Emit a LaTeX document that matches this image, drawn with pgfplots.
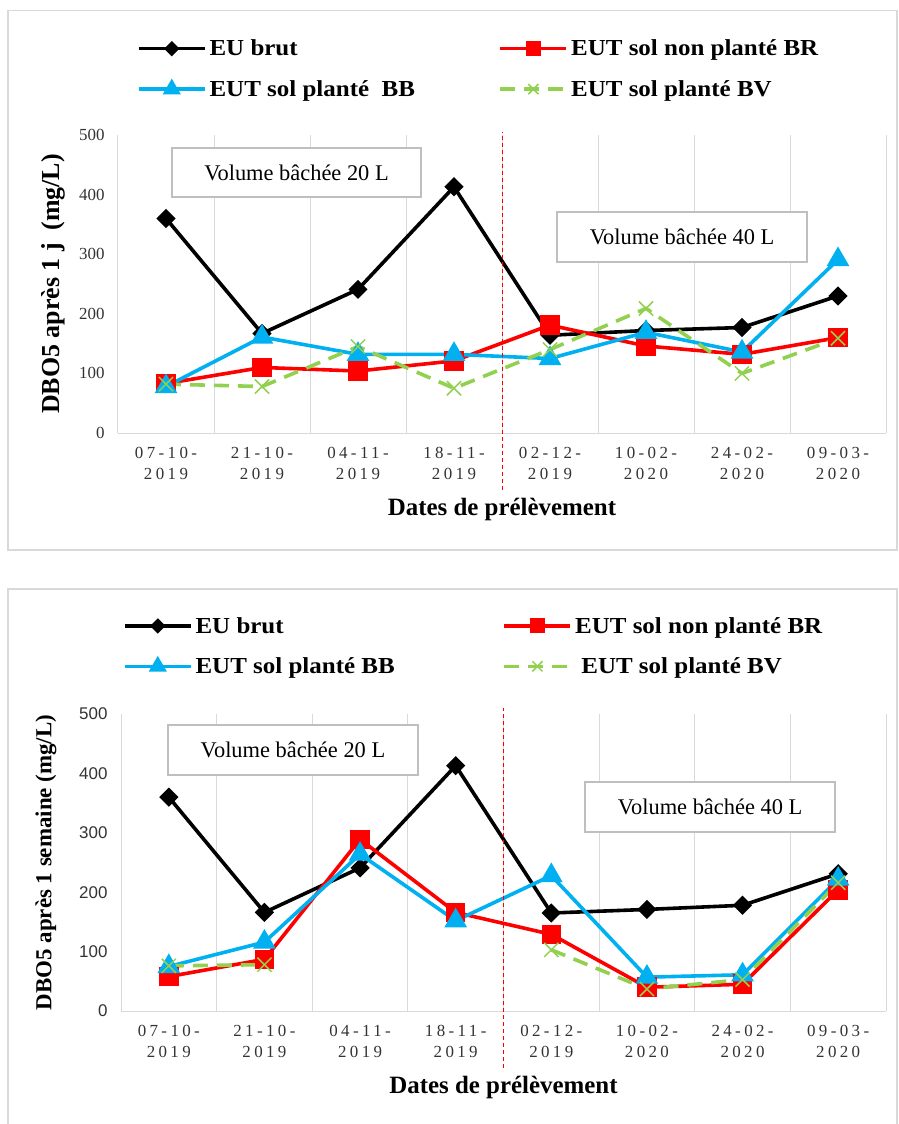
\documentclass[border=0pt]{standalone}
\usepackage{fontspec}
\setmainfont{Liberation Serif}
\newfontfamily\arialf{Liberation Sans}
\newfontfamily\spacedf[LetterSpace=20]{Liberation Serif}
\usepackage{pgfplots}
\pgfplotsset{compat=1.18}
\definecolor{cblue}{HTML}{00B0F0}
\definecolor{cgreen}{HTML}{92D050}
\definecolor{cgrid}{HTML}{D9D9D9}
\definecolor{cbox}{HTML}{BFBFBF}
\newcommand{\legtxt}[1]{\scalebox{1.09}[1]{#1}}

\pgfplotsset{
 mystyle/.style={
  scale only axis, xmin=0.5, xmax=8.5, ymin=0, ymax=500, ytick={0,100,...,500},
  xtick={1,...,8},
  xticklabels={{07-10-\\2019},{21-10-\\2019},{04-11-\\2019},{18-11-\\2019},{02-12-\\2019},{10-02-\\2020},{24-02-\\2020},{09-03-\\2020}},
  minor xtick={1.5,2.5,...,8.5}, xminorgrids, minor grid style={cgrid, line width=1bp},
  major tick length=0, minor tick length=0,
  axis x line*=bottom, axis y line*=left, axis line style={cgrid, line width=1bp, -},
  xticklabel style={align=center, font=\spacedf\fontsize{17}{21}\selectfont, yshift=-11bp, text=black!80},
  yticklabel style={font=\fontsize{17}{20}\selectfont, xshift=-10bp, text=black!80},
  /pgf/number format/assume math mode=true,
  xlabel style={font=\bfseries\fontsize{25}{29}\selectfont, at={(axis description cs:0.5,-0.258)}, anchor=center},
  ylabel style={font=\bfseries\fontsize{23}{27}\selectfont, anchor=center},
  clip=false,
  legend columns=2,
  legend cell align=left,
  legend image code/.code={\draw[mark repeat=2,mark phase=2,#1, every mark/.append style={scale=0.72}] plot coordinates {(0bp,0bp) (33bp,0bp) (66bp,0bp)};},
  unbounded coords=jump,
 },
 brut/.style={black, line width=3.6bp, mark=square*, mark size=5bp, mark options={rotate=45, solid}},
 br/.style={red, line width=3.6bp, mark=square*, mark size=8bp, mark options={solid}},
 bb/.style={cblue, line width=3.6bp, mark=triangle*, mark size=9.5bp, mark options={solid}},
 bv/.style={cgreen, line width=3.6bp, dash pattern=on 15bp off 9bp, mark=x, mark size=10bp, mark options={solid, line width=1.5bp}},
}

\begin{document}
\begin{tikzpicture}
\path[use as bounding box] (0,0) rectangle (899bp,-1124bp);
\draw[cgrid, line width=1.3bp] (8bp,-10.5bp) rectangle (897bp,-550bp);
\draw[cgrid, line width=1.3bp] (8bp,-1140bp) -- (8bp,-589bp) -- (897bp,-589bp) -- (897bp,-1140bp);

% ---------------- top chart ----------------
\begin{axis}[mystyle,
  at={(118bp,-433bp)}, anchor=south west, width=768bp, height=298bp,
  xlabel={Dates de prélèvement},
  ylabel={DBO5 après 1 j\ \ (mg/L)},
  ylabel style={at={(axis description cs:-0.0846,0.5)}, font=\bfseries\fontsize{26}{30}\selectfont},
  legend style={draw=none, fill=none, inner sep=0pt, outer sep=0pt,
    at={(axis description cs:0.0247,1.319)}, anchor=north west,
    nodes={inner sep=0pt, font=\bfseries\fontsize{23}{27}\selectfont},
    /tikz/every odd column/.append style={column sep=3bp},
    row sep=23bp},
]
\addplot[brut] coordinates {(1,360) (2,167) (3,241) (4,413) (5,164) (6,172) (7,177) (8,230)};
\addlegendentry{\makebox[289bp][l]{\legtxt{EU brut}}}
\addplot[br] coordinates {(1,83) (2,110) (3,104) (4,121) (5,181) (6,146) (7,132) (8,160)};
\addlegendentry{\legtxt{EUT sol non planté BR}}
\addplot[bb] coordinates {(1,78) (2,161) (3,132) (4,132) (5,125) (6,169) (7,136) (8,291)};
\addlegendentry{\makebox[289bp][l]{\legtxt{EUT sol planté\ \ BB}}}
\addplot[bv] coordinates {(1,82) (2,78) (3,145) (4,75) (5,140) (6,209) (7,100) (8,159)};
\addlegendentry{\legtxt{EUT sol planté BV}}
\draw[red, line width=1bp, dash pattern=on 4bp off 3bp] (axis cs:4.5,-96) -- (axis cs:4.5,505);
\node[draw=cbox, fill=white, line width=1.3bp, minimum width=249bp, minimum height=49bp, font=\fontsize{22.5}{27}\selectfont]
  at (rel axis cs:0.2324,0.8742) {Volume bâchée 20 L};
\node[draw=cbox, fill=white, line width=1.3bp, minimum width=250bp, minimum height=50bp, font=\fontsize{22.5}{27}\selectfont]
  at (rel axis cs:0.7344,0.6577) {Volume bâchée 40 L};
\end{axis}

% ---------------- bottom chart ----------------
\begin{axis}[mystyle,
  at={(121bp,-1011bp)}, anchor=south west, width=765bp, height=297bp,
  xlabel={Dates de prélèvement},
  ylabel={DBO5 après 1 semaine (mg/L)},
  ylabel style={at={(axis description cs:-0.098,0.5)}},
  yticklabel style={font=\arialf\fontsize{17}{20}\selectfont},
  legend style={draw=none, fill=none, inner sep=0pt, outer sep=0pt,
    at={(axis description cs:0.0026,1.326)}, anchor=north west,
    nodes={inner sep=0pt, font=\bfseries\fontsize{23}{27}\selectfont},
    /tikz/every odd column/.append style={column sep=3bp},
    row sep=23bp},
]
\addplot[brut] coordinates {(1,360) (2,166) (3,241) (4,413) (5,165) (6,171) (7,178) (8,231)};
\addlegendentry{\makebox[307bp][l]{\legtxt{EU brut}}}
\addplot[br] coordinates {(1,58) (2,87) (3,289) (4,166) (5,129) (6,40) (7,45) (8,204)};
\addlegendentry{\legtxt{EUT sol non planté BR}}
\addplot[bb] coordinates {(1,75) (2,116) (3,264) (4,152) (5,228) (6,57) (7,61) (8,222)};
\addlegendentry{\makebox[307bp][l]{\legtxt{EUT sol planté BB}}}
\addplot[bv] coordinates {(1,76) (2,78) (3,nan) (4,nan) (5,103) (6,37) (7,53) (8,216)};
\addlegendentry{\legtxt{\ EUT sol planté BV}}
\draw[red, line width=1bp, dash pattern=on 4bp off 3bp] (axis cs:4.5,-96) -- (axis cs:4.5,510);
\node[draw=cbox, fill=white, line width=1.3bp, minimum width=250bp, minimum height=50bp, font=\fontsize{22.5}{27}\selectfont]
  at (rel axis cs:0.2248,0.8788) {Volume bâchée 20 L};
\node[draw=cbox, fill=white, line width=1.3bp, minimum width=250bp, minimum height=50bp, font=\fontsize{22.5}{27}\selectfont]
  at (rel axis cs:0.77,0.6869) {Volume bâchée 40 L};
\end{axis}
\end{tikzpicture}
\end{document}
